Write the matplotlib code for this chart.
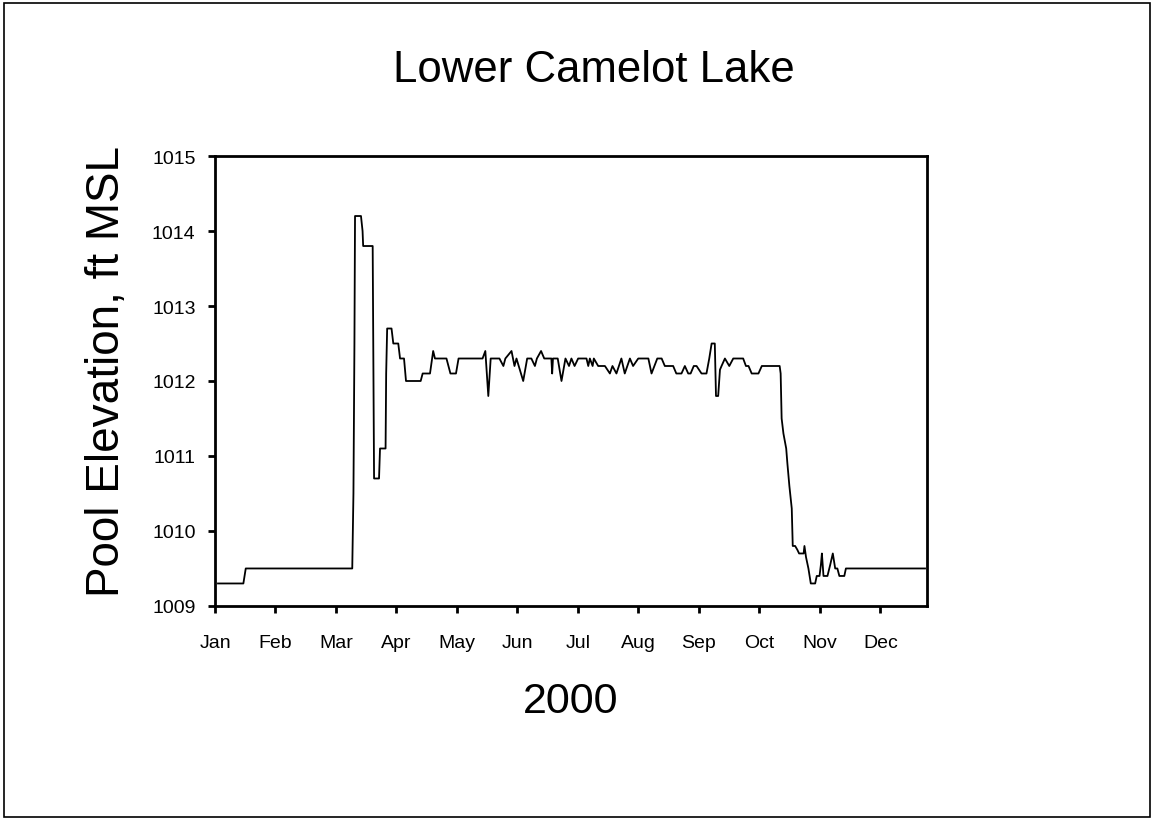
import numpy as np
import matplotlib
matplotlib.use('Agg')
import matplotlib.pyplot as plt
from matplotlib.patches import Rectangle

plt.rcParams['font.family'] = ['Liberation Sans', 'DejaVu Sans']

# 日序 (day of year) 和 水位 (ft MSL)
days = [1.5, 14.3, 15.5, 69.2, 69.8, 70.3, 70.6, 73.6, 74.4, 74.7,
        79.5, 80.2, 82.7, 83.2, 86.0, 86.3, 86.8, 89.0, 89.9, 92.4,
        93.3, 95.3, 96.3, 103.7, 104.7, 108.4, 110.0, 110.9, 116.7, 118.7,
        121.5, 122.8, 134.9, 136.3, 137.8, 139.0, 143.4, 145.4, 146.4, 149.5,
        151.0, 152.0, 155.4, 157.4, 159.5, 161.3, 162.3, 164.4, 166.0, 169.6,
        170.0, 170.4, 172.8, 174.7, 176.7, 178.5, 179.7, 181.3, 183.1, 187.3,
        188.2, 189.0, 190.4, 191.0, 193.2, 196.6, 199.1, 200.4, 202.4, 204.9,
        206.6, 209.2, 210.8, 213.4, 218.5, 220.1, 223.0, 225.2, 226.8, 231.0,
        232.6, 235.2, 236.9, 238.6, 239.8, 241.4, 242.8, 245.3, 247.8, 249.2,
        250.4, 252.0, 252.6, 253.7, 254.6, 255.4, 257.1, 259.3, 261.3, 266.3,
        267.7, 269.0, 270.6, 274.0, 275.7, 284.7, 285.2, 285.7, 286.6, 288.0,
        288.6, 289.6, 290.8, 291.3, 292.5, 293.6, 294.5, 296.8, 297.2, 298.0,
        299.2, 300.4, 302.6, 303.4, 304.8, 305.5, 306.0, 306.8, 308.8, 310.2,
        311.5, 312.7, 313.8, 314.8, 317.3, 318.1, 358.0]
elev = [1009.3, 1009.3, 1009.5, 1009.5, 1010.5, 1012.5, 1014.2, 1014.2, 1014.0, 1013.8,
        1013.8, 1010.7, 1010.7, 1011.1, 1011.1, 1012.1, 1012.7, 1012.7, 1012.5, 1012.5,
        1012.3, 1012.3, 1012.0, 1012.0, 1012.1, 1012.1, 1012.4, 1012.3, 1012.3, 1012.1,
        1012.1, 1012.3, 1012.3, 1012.4, 1011.8, 1012.3, 1012.3, 1012.2, 1012.3, 1012.4,
        1012.2, 1012.3, 1012.0, 1012.3, 1012.3, 1012.2, 1012.3, 1012.4, 1012.3, 1012.3,
        1012.1, 1012.3, 1012.3, 1012.0, 1012.3, 1012.2, 1012.3, 1012.2, 1012.3, 1012.3,
        1012.2, 1012.3, 1012.2, 1012.3, 1012.2, 1012.2, 1012.1, 1012.2, 1012.1, 1012.3,
        1012.1, 1012.3, 1012.2, 1012.3, 1012.3, 1012.1, 1012.3, 1012.3, 1012.2, 1012.2,
        1012.1, 1012.1, 1012.2, 1012.1, 1012.1, 1012.2, 1012.2, 1012.1, 1012.1, 1012.3,
        1012.5, 1012.5, 1011.8, 1011.8, 1012.15, 1012.2, 1012.3, 1012.2, 1012.3, 1012.3,
        1012.2, 1012.2, 1012.1, 1012.1, 1012.2, 1012.2, 1012.1, 1011.5, 1011.3, 1011.1,
        1010.9, 1010.6, 1010.3, 1009.8, 1009.8, 1009.75, 1009.7, 1009.7, 1009.8, 1009.65,
        1009.5, 1009.3, 1009.3, 1009.4, 1009.4, 1009.55, 1009.7, 1009.4, 1009.4, 1009.55,
        1009.7, 1009.5, 1009.5, 1009.4, 1009.4, 1009.5, 1009.5]

months = ['Jan', 'Feb', 'Mar', 'Apr', 'May', 'Jun',
          'Jul', 'Aug', 'Sep', 'Oct', 'Nov', 'Dec']
yticks = [1009, 1010, 1011, 1012, 1013, 1014, 1015]

fig = plt.figure(figsize=(11.51, 8.2), dpi=100)
ax = fig.add_axes([0.1868, 0.2598, 0.6186, 0.5487])

ax.plot(days, elev, color='black', linewidth=1.3)

ax.set_xlim(0, 359)
ax.set_ylim(1009, 1015)
ax.set_xticks(np.arange(12) * 30.5)
ax.set_xticklabels(months)
ax.set_yticks(yticks)

for s in ax.spines.values():
    s.set_linewidth(2)
ax.tick_params(direction='out', length=5, width=2, labelsize=14)
ax.tick_params(axis='x', pad=15)
ax.tick_params(axis='y', pad=9)

ax.set_title('Lower Camelot Lake', fontsize=31.5, pad=54)
ax.title.set_x(0.532)
ax.set_xlabel('2000', fontsize=31, labelpad=22)
ax.set_ylabel('Pool Elevation, ft MSL', fontsize=33)
ax.yaxis.set_label_coords(-0.121, 0.523)

# 外框
fig.patches.append(Rectangle((4 / 1151, 2 / 820), 1146 / 1151, 814 / 820,
                             transform=fig.transFigure, fill=False,
                             edgecolor='black', linewidth=1.2))

fig.savefig('out.png', dpi=100)
